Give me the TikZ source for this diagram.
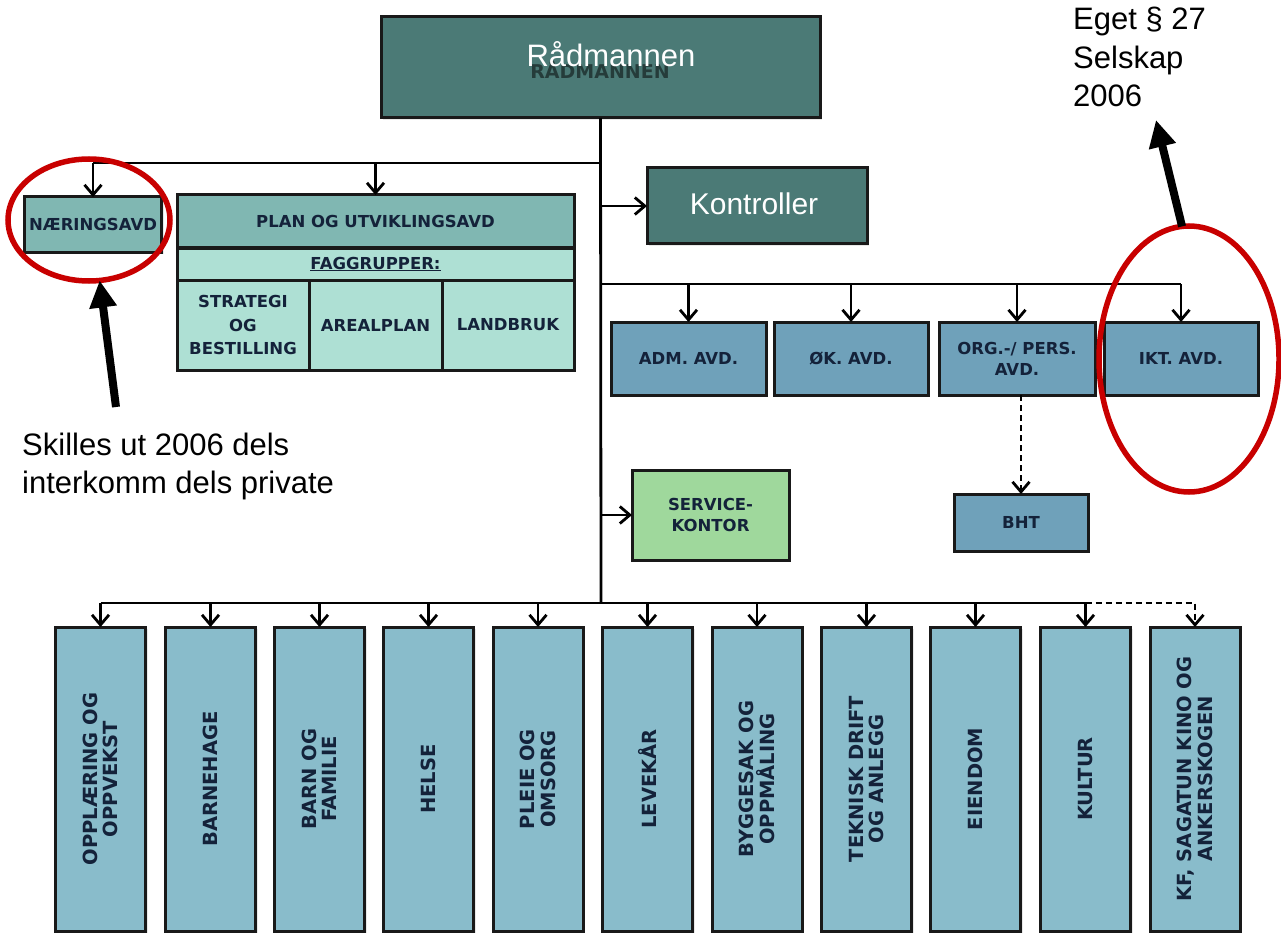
\documentclass[tikz,border=0pt]{standalone}
\usepackage{fontspec}
\newfontfamily\boxfont{DejaVu Sans}[BoldFont={DejaVu Sans Bold}]
\newfontfamily\notefont{Liberation Sans}
\usetikzlibrary{arrows.meta,shapes.geometric,shadows}

\definecolor{headteal}{HTML}{4B7A76}
\definecolor{midteal}{HTML}{80B7B2}
\definecolor{mint}{HTML}{AEE0D4}
\definecolor{steel}{HTML}{6FA1BA}
\definecolor{paleblue}{HTML}{89BCCB}
\definecolor{leaf}{HTML}{9FD89C}
\definecolor{ink}{HTML}{14223A}
\definecolor{ringred}{HTML}{C80000}

\begin{document}
\begin{tikzpicture}[x=1pt,y=-1pt,
  unit/.style={draw=black!90, line width=3pt, inner sep=0pt, outer sep=0pt,
    align=center, text=ink,
    drop shadow={opacity=0.18, shadow xshift=2pt, shadow yshift=-2pt},
    font=\boxfont\bfseries\fontsize{16.5}{21}\selectfont},
  head/.style={unit, fill=headteal, text=white,
    font=\notefont\fontsize{31}{36}\selectfont},
  vlabel/.style={rotate=90, align=center, text=ink, inner sep=0pt,
    font=\boxfont\bfseries\fontsize{19.5}{20.5}\selectfont},
  unitbox/.style={unit, fill=paleblue, minimum width=90, minimum height=304},
  wire/.style={line width=2.8pt},
  conn/.style={wire, -{Straight Barb[length=10pt,width=17pt]}},
  dconn/.style={conn, dash pattern=on 6pt off 4pt},
  ring/.style={ellipse, draw=ringred, line width=5.5pt, inner sep=0pt, outer sep=0pt},
  pointer/.style={line width=8pt, -{Triangle[length=27pt,width=26pt]}},
  note/.style={inner sep=0pt, align=left, text=black}
]
\useasboundingbox (0,0) rectangle (1281,933);
\fill[white] (0,0) rectangle (1281,933);

% top management
\node[head, minimum width=439, minimum height=101] (rad) at (600.5,67.5) {};
\node[text=black, opacity=0.5, font=\boxfont\bfseries\fontsize{19}{20}\selectfont] (radghost) at (600,70) {RÅDMANNEN};
\node[text=white, anchor=base, inner sep=0pt, font=\notefont\fontsize{31}{36}\selectfont] (radtxt) at (611,67) {Rådmannen};

\node[head, minimum width=220, minimum height=76] (kon) at (757,206) {};
\node[text=white, anchor=base, inner sep=0pt, font=\notefont\fontsize{30}{36}\selectfont] (kontxt) at (754,215) {Kontroller};

% left branch
\node[unit, fill=midteal, minimum width=137, minimum height=55] (nae) at (93,224.5) {NÆRINGSAVD};
\node[unit, fill=midteal, minimum width=397, minimum height=53] (plan) at (375.5,221.5) {PLAN OG UTVIKLINGSAVD};
\node[unit, fill=mint, minimum width=397, minimum height=32] (fag) at (375.5,264) {\underline{FAGGRUPPER:}};
\node[unit, fill=mint, minimum width=132, minimum height=90,
  font=\boxfont\bfseries\fontsize{16.5}{23.5}\selectfont] (strat) at (243,325) {STRATEGI\\OG\\BESTILLING};
\node[unit, fill=mint, minimum width=133, minimum height=90] (areal) at (375.5,325) {AREALPLAN};
\node[unit, fill=mint, minimum width=132, minimum height=90] (land) at (508,325) {LANDBRUK};

% staff departments
\node[unit, fill=steel, minimum width=155, minimum height=73] (adm) at (688.5,358.5) {ADM. AVD.};
\node[unit, fill=steel, minimum width=154, minimum height=73] (ok) at (851,358.5) {ØK. AVD.};
\node[unit, fill=steel, minimum width=156, minimum height=73] (org) at (1017,358.5) {ORG.-/ PERS.\\AVD.};
\node[unit, fill=steel, minimum width=154, minimum height=73] (ikt) at (1181,358.5) {IKT. AVD.};
\node[unit, fill=steel, minimum width=134, minimum height=57] (bht) at (1021,522.5) {BHT};
\node[unit, fill=leaf, minimum width=157, minimum height=90] (svc) at (710.5,515) {SERVICE-\\KONTOR};

% service units
\foreach \i/\cx/\txt in {
  1/100.5/{OPPLÆRING OG\\OPPVEKST},
  2/210.5/{BARNEHAGE},
  3/319.5/{BARN OG\\FAMILIE},
  4/428.5/{HELSE},
  5/538/{PLEIE OG\\OMSORG},
  6/647.5/{LEVEKÅR},
  7/757/{BYGGESAK OG\\OPPMÅLING},
  8/866.5/{TEKNISK DRIFT\\OG ANLEGG},
  9/975.5/{EIENDOM},
  10/1085.5/{KULTUR},
  11/1195/{KF, SAGATUN KINO OG\\ANKERSKOGEN}}{
  \node[unitbox] (b\i) at (\cx,779) {};
  \node[vlabel] (t\i) at (b\i.center) {\txt};
}

% connectors
\coordinate (busA) at (601,163);
\coordinate (busB) at (601,284);
\coordinate (busC) at (601,603);
\draw[wire] (rad.south) -- (busC);
\draw[wire] (nae.north |- busA) -- (busA);
\draw[conn] (nae.north |- busA) -- (nae.north);
\draw[conn] (plan.north |- busA) -- (plan.north);
\draw[conn] (rad.south |- kon.west) -- (kon.west);
\draw[wire] (busB) -- (ikt.north |- busB);
\foreach \n in {adm,ok,org,ikt}
  \draw[conn] (\n.north |- busB) -- (\n.north);
\draw[dconn] (org.south -| bht.north) -- (bht.north);
\draw[conn] (rad.south |- svc.west) -- (svc.west);
\draw[wire] (b1.north |- busC) -- (b10.north |- busC);
\foreach \i in {1,...,10}
  \draw[conn] (b\i.north |- busC) -- (b\i.north);
\draw[dconn] (b10.north |- busC) -- (b11.north |- busC) -- (b11.north);

% highlights and remarks
\node[ring, minimum width=162, minimum height=122] (ring1) at (89,220) {};
\node[ring, minimum width=180, minimum height=266] (ring2) at (1189,359) {};

% base anchor of a multi-line node sits on its last line
\node[note, anchor=base west, font=\notefont\fontsize{31}{38.5}\selectfont] (eget) at (1073,107) {Eget § 27\\Selskap\\2006};
\node[note, anchor=base west, font=\notefont\fontsize{31}{38}\selectfont] (skilles) at (22,493) {Skilles ut 2006 dels\\interkomm dels private};

\coordinate (tailL) at (116,407);
\coordinate (tipR) at (1156,120);
\draw[pointer] (tailL) -- (ring1.-80);
\draw[pointer] (ring2.93) -- (tipR);
\end{tikzpicture}
\end{document}
